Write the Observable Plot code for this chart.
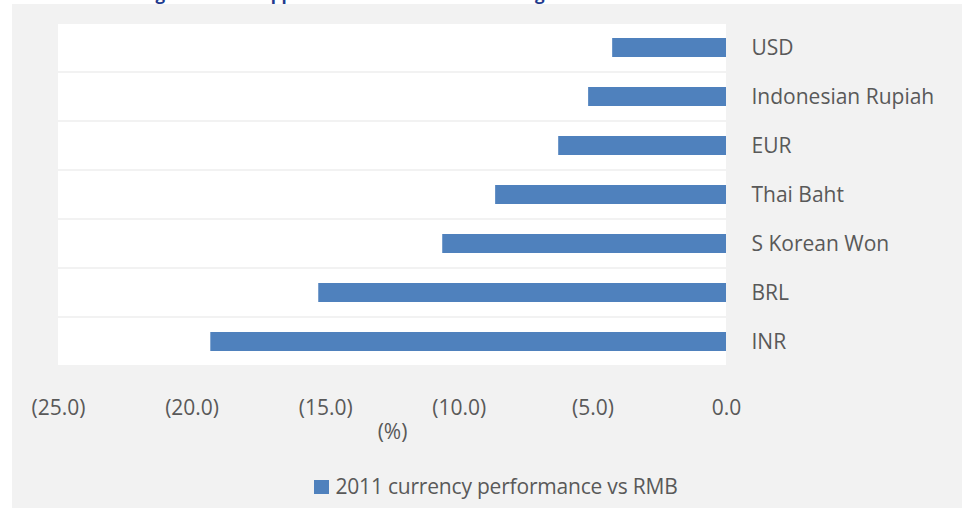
<!DOCTYPE html>
<html>
<head>
<meta charset="utf-8">
<script src="https://cdn.jsdelivr.net/npm/d3@7"></script>
<script src="https://cdn.jsdelivr.net/npm/@observablehq/plot@0.6"></script>
<style>
  html, body { margin: 0; padding: 0; background: #ffffff; width: 969px; height: 508px; overflow: hidden; }
  #title { position: absolute; left: 141px; top: -18px; font: bold 17px "Open Sans", sans-serif; color: #1f3b8e; white-space: nowrap; }
  #panel { position: absolute; left: 12px; top: 4px; width: 950px; height: 504px; background: #f2f2f2; }
  #chart { position: absolute; left: 0; top: 0; }
  #legend { position: absolute; left: 0; width: 968px; top: 468px; text-align: center; font: 21px "Open Sans", sans-serif; color: #595959; letter-spacing: -0.2px; }
  #legend .sw { display: inline-block; width: 15px; height: 14px; background: #4f81bd; margin-right: 6px; vertical-align: 0px; }
</style>
</head>
<body>
<div id="title">Figure 3: RMB appreciation versus the other regional currencies</div>
<div id="panel">
  <div id="chart"></div>
  <div id="legend"></div>
</div>
<script>
const categories = ["USD", "Indonesian Rupiah", "EUR", "Thai Baht", "S Korean Won", "BRL", "INR"];
const values = [-4.26, -5.16, -6.28, -8.64, -10.62, -15.26, -19.30];
const xTicks = [-25, -20, -15, -10, -5, 0];
const seriesName = "2011 currency performance vs RMB";
const barColor = "#4f81bd";

const data = categories.map((c, i) => ({name: c, value: values[i]}));
const fmt = v => v < 0 ? `(${Math.abs(v).toFixed(1)})` : v.toFixed(1);

const plot = Plot.plot({
  width: 950,
  height: 440,
  marginLeft: 46,
  marginRight: 236,
  marginTop: 16,
  marginBottom: 76,
  style: { background: "transparent", fontFamily: "'Open Sans', sans-serif", color: "#595959", overflow: "visible" },
  x: { domain: [xTicks[0], xTicks[xTicks.length - 1]] },
  y: { domain: categories, paddingInner: 0, paddingOuter: 0 },
  marks: [
    Plot.barX(categories, { x1: xTicks[0], x2: xTicks[xTicks.length - 1], y: d => d, fill: "white", insetTop: 1, insetBottom: 1 }),
    Plot.barX(data, { x: "value", y: "name", fill: barColor, insetTop: 15, insetBottom: 15 }),
    Plot.axisY({ anchor: "right", tickSize: 0, tickPadding: 25, fontSize: 21, fill: "#595959", label: null }),
    Plot.axisX(xTicks, { anchor: "bottom", tickSize: 0, tickPadding: 32, fontSize: 21, fill: "#595959", tickFormat: fmt, label: null }),
    Plot.axisX({ anchor: "bottom", ticks: [], tickSize: 0, fontSize: 21, fill: "#595959",
                 label: "(%)", labelAnchor: "center", labelArrow: "none", labelOffset: 70 })
  ]
});
document.getElementById("chart").appendChild(plot);

const lg = document.getElementById("legend");
lg.innerHTML = `<span class="sw"></span>${seriesName}`;
</script>
</body>
</html>
